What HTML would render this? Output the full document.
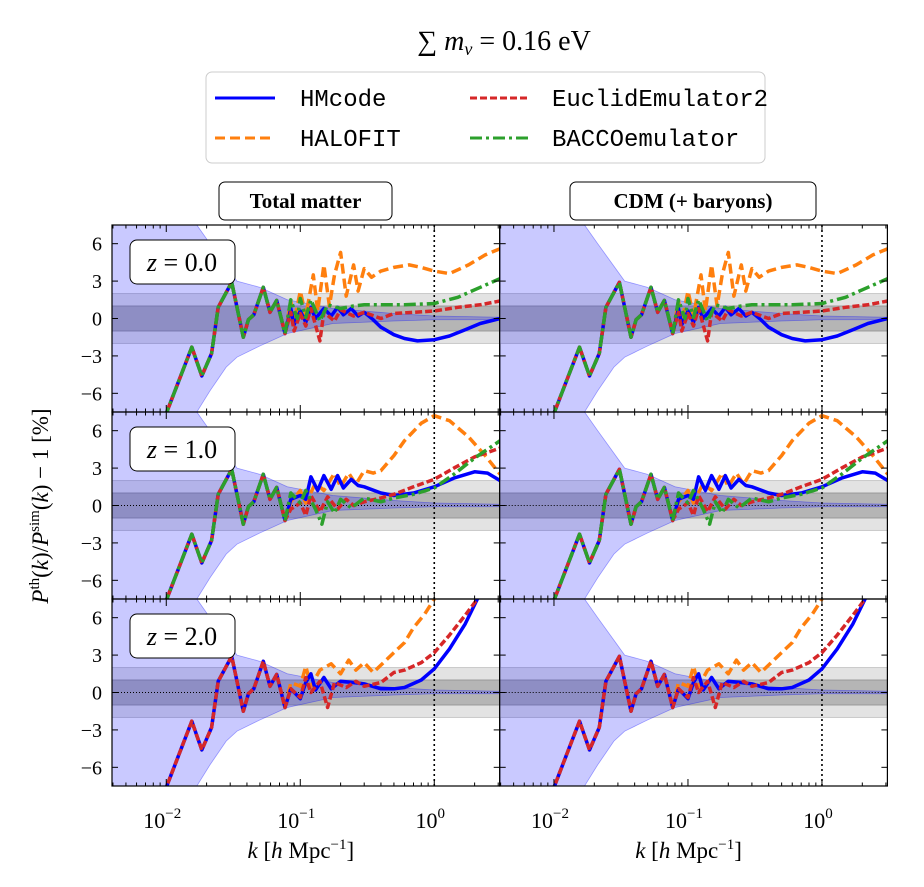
<!DOCTYPE html>
<html><head><meta charset="utf-8">
<style>
html,body{margin:0;padding:0;background:#fff;overflow:hidden;width:924px;height:887px;}
svg{display:block;position:absolute;left:0;top:0;}
svg text{font-family:"Liberation Serif","DejaVu Serif",serif;}
.mono{font-family:"Liberation Mono","DejaVu Sans Mono",monospace;}
</style></head>
<body>
<svg id="chart" width="924" height="887" viewBox="0 0 924 887" xmlns="http://www.w3.org/2000/svg" overflow="hidden">
<text x="504" y="50" font-size="28" text-anchor="middle">∑ <tspan font-style="italic">m</tspan><tspan font-style="italic" font-size="18" dy="5">ν</tspan><tspan dy="-5"> = 0.16 eV</tspan></text>
<g>
<rect x="206" y="72" width="559" height="91" rx="6" fill="#fff" stroke="#ccc" stroke-width="1"/>
<g><line x1="215" y1="98" x2="275" y2="98" stroke="#0000ff" stroke-width="3"/><text class="mono" x="300" y="106" font-size="24">HMcode</text></g>
<g><line x1="470" y1="98" x2="530" y2="98" stroke="#d62728" stroke-width="3" stroke-dasharray="7,3"/><text class="mono" x="552" y="106" font-size="24">EuclidEmulator2</text></g>
<g><line x1="215" y1="138" x2="275" y2="138" stroke="#ff7f0e" stroke-width="3" stroke-dasharray="10,5"/><text class="mono" x="300" y="146" font-size="24">HALOFIT</text></g>
<g><line x1="470" y1="138" x2="530" y2="138" stroke="#2ca02c" stroke-width="3" stroke-dasharray="12,4,3,4"/><text class="mono" x="552" y="146" font-size="24">BACCOemulator</text></g>
</g>
<g><rect x="219" y="182" width="173" height="38" rx="6" fill="#fff" stroke="#000"/><text x="305.5" y="208" font-size="21" font-weight="bold" text-anchor="middle">Total matter</text></g>
<g><rect x="570" y="182" width="246" height="38" rx="6" fill="#fff" stroke="#000"/><text x="693" y="208" font-size="21" font-weight="bold" text-anchor="middle">CDM (+ baryons)</text></g>
<text transform="translate(48,506) rotate(-90)" font-size="23" text-anchor="middle"><tspan font-style="italic">P</tspan><tspan font-size="15" dy="-9">th</tspan><tspan dy="9">(</tspan><tspan font-style="italic">k</tspan><tspan>)/</tspan><tspan font-style="italic">P</tspan><tspan font-size="15" dy="-9">sim</tspan><tspan dy="9">(</tspan><tspan font-style="italic">k</tspan><tspan>) − 1 [%]</tspan></text>
<g id="panels"></g>
</svg>
<script>
const NS="http://www.w3.org/2000/svg";
// ---- data ----
const redshifts=["0.0","1.0","2.0"];
const yTicks=[-6,-3,0,3,6];
const xTickExps=[-2,-1,0];
const envK=[0.003,0.0169,0.0212,0.028,0.0337,0.05,0.08,0.175,0.5,1,3.2];
const envUp=[40,7.5,6,4.2,3,2.5,1.5,0.8,0.4,0.2,0.1];
const envLo=[-40,-7.5,-5.8,-3.9,-3.1,-2.2,-1.2,-0.4,-0.2,-0.1,-0.1];
const lowK=[0.0095,0.0101,0.0155,0.0184,0.0218,0.0244,0.0308,0.0376,0.041,0.045,0.053,0.0594,0.0667,0.0769];
const lowV=[-8,-7.5,-2.3,-4.6,-2.8,0.9,2.9,-1.5,-0.1,0.3,2.5,0.5,1.45,-1.2];
// z=0
const z0Blue=[[0.085,0.8],[0.09,-0.5],[0.1,0.6],[0.11,-0.3],[0.12,0.9],[0.13,0],[0.15,0.8],[0.17,0.2],[0.19,0.9],[0.21,0.3],[0.24,0.8],[0.27,0.2],[0.3,0.5],[0.35,-0.1],[0.4,-0.7],[0.5,-1.3],[0.6,-1.6],[0.75,-1.8],[1,-1.7],[1.3,-1.4],[1.7,-0.9],[2.2,-0.4],[3.1,0]];
const z0Orange=[[0.085,1.4],[0.09,-0.3],[0.1,2.2],[0.11,0.2],[0.125,3.5],[0.135,0.6],[0.15,4.3],[0.165,1.0],[0.18,3.5],[0.2,5.3],[0.22,1.8],[0.25,4.3],[0.27,2.2],[0.3,4.0],[0.34,3.3],[0.4,3.8],[0.5,4.1],[0.65,4.3],[0.8,4.1],[1,3.8],[1.3,3.6],[1.8,4.3],[2.4,5.1],[3.1,5.6]];
const z0Red=[[0.085,0.5],[0.09,-1],[0.1,0.4],[0.11,-0.6],[0.12,0.8],[0.14,-1.8],[0.15,0.5],[0.18,-0.2],[0.2,0.7],[0.25,0.2],[0.3,0.5],[0.4,0],[0.5,0.4],[0.7,0.5],[1,0.6],[1.5,0.9],[2.2,1.1],[3.1,1.4]];
const z0Green=[[0.085,1.5],[0.095,0],[0.1,1.6],[0.11,0.1],[0.12,1.5],[0.14,-0.2],[0.16,1.1],[0.2,0.8],[0.25,1.0],[0.3,1.1],[0.4,1.1],[0.6,1.1],[1,1.2],[1.5,1.7],[2,2.3],[3.1,3.2]];
// z=1
const z1Blue=[[0.085,0.5],[0.1,0.8],[0.11,0.5],[0.12,2.3],[0.135,1.2],[0.15,2.4],[0.17,1.3],[0.19,2.4],[0.21,1.4],[0.24,2.1],[0.27,1.6],[0.3,1.5],[0.4,1.0],[0.5,0.8],[0.7,1.0],[1,1.5],[1.4,2.2],[2,2.7],[2.5,2.6],[3.1,2.0]];
const z1Orange=[[0.085,0.3],[0.1,1.2],[0.11,0.2],[0.13,1.8],[0.15,1.2],[0.18,2.6],[0.2,1.5],[0.23,2.6],[0.26,1.7],[0.3,2.8],[0.35,2.6],[0.4,2.8],[0.5,4],[0.6,5.2],[0.8,6.6],[1,7.2],[1.3,6.8],[1.8,5.5],[2.4,4],[3.1,2.5]];
const z1Red=[[0.085,-0.3],[0.1,0.2],[0.11,-0.8],[0.12,0.8],[0.14,-0.5],[0.16,0.7],[0.19,-0.3],[0.22,0.5],[0.25,0],[0.3,0.3],[0.4,0.6],[0.5,0.9],[0.7,1.5],[1,2.1],[1.4,3],[2,3.9],[3.1,4.6]];
const z1Green=[[0.085,1],[0.1,0.2],[0.11,1.2],[0.13,-0.3],[0.145,-1.5],[0.16,0.3],[0.18,-0.6],[0.2,0.5],[0.24,-0.2],[0.3,0.6],[0.4,0.3],[0.5,0.6],[0.7,0.9],[1,1.4],[1.4,2.5],[2,3.8],[3.1,5.2]];
// z=2
const z2Blue=[[0.085,0.3],[0.1,-0.5],[0.11,0.8],[0.12,1.5],[0.13,0.2],[0.15,1.2],[0.17,0.3],[0.2,0.9],[0.25,0.8],[0.3,0.7],[0.4,0.3],[0.5,0.3],[0.6,0.4],[0.8,1.0],[1,1.9],[1.3,3.5],[1.7,5.5],[2.1,7.5],[2.2,8]];
const z2Orange=[[0.085,0.8],[0.1,0.5],[0.11,2.1],[0.12,0.5],[0.14,1.8],[0.17,2.3],[0.2,1.5],[0.23,2.6],[0.26,1.8],[0.3,2.4],[0.35,1.6],[0.4,2.2],[0.5,3.2],[0.6,4.0],[0.7,5.2],[0.85,6.3],[1,7.5],[1.05,8]];
const z2Red=[[0.085,0.3],[0.1,-0.4],[0.11,1.2],[0.12,0],[0.14,0.9],[0.16,-1.2],[0.18,0.8],[0.22,0.4],[0.26,0.9],[0.3,0.5],[0.4,0.8],[0.5,1.6],[0.6,1.8],[0.8,2.4],[1,3.2],[1.3,4.6],[1.7,6.2],[2.1,7.5],[2.2,8]];

const rowsData=[
 {blue:z0Blue,orange:z0Orange,red:z0Red,green:z0Green},
 {blue:z1Blue,orange:z1Orange,red:z1Red,green:z1Green},
 {blue:z2Blue,orange:z2Orange,red:z2Red,green:null}
];
const styles={
 orange:{c:"#ff7f0e",d:"10,5",n:"halofit"},
 blue:{c:"#0000ff",d:"",n:"hmcode"},
 red:{c:"#d62728",d:"7,3",n:"euclidemulator2"},
 green:{c:"#2ca02c",d:"12,4,3,4",n:"baccoemulator"}
};
const colX=[112,499.7], PW=387.7, rowY=[225,412,599], PH=187;
const LOGMIN=-2.405, PXDEC=134, PXU=12.47;
const root=document.getElementById('panels');
function mk(tag,attrs,parent){const e=document.createElementNS(NS,tag);for(const k in attrs)e.setAttribute(k,attrs[k]);(parent||root).appendChild(e);return e;}

for(let c=0;c<2;c++){
 for(let r=0;r<3;r++){
  const x0=colX[c],y0=rowY[r],yc=y0+PH/2;
  const X=k=>x0+(Math.log10(k)-LOGMIN)*PXDEC;
  const Y=v=>yc-v*PXU;
  const g=mk('g',{});
  
  
  const cid='clip'+c+r;
  const cp=mk('clipPath',{id:cid},g);mk('rect',{x:x0,y:y0,width:PW,height:PH},cp);
  const inner=mk('g',{'clip-path':'url(#'+cid+')'},g);
  const b2=mk('rect',{x:x0,y:Y(2),width:PW,height:4*PXU,fill:'#e3e3e3',stroke:'#c8c8c8','stroke-width':1},inner);
  
  const b1=mk('rect',{x:x0,y:Y(1),width:PW,height:2*PXU,fill:'#b5b5b5',stroke:'#999','stroke-width':1},inner);
  
  let pts=envK.map((k,i)=>X(k)+','+Math.max(y0-5,Y(envUp[i])));
  for(let i=envK.length-1;i>=0;i--)pts.push(X(envK[i])+','+Math.min(y0+PH+5,Y(envLo[i])));
  const env=mk('polygon',{points:pts.join(' '),fill:'rgba(0,0,255,0.21)',stroke:'rgba(0,0,255,0.35)','stroke-width':0.8},inner);
  
  if(r>0){const zl=mk('line',{x1:x0,x2:x0+PW,y1:yc,y2:yc,stroke:'#000','stroke-width':1,'stroke-dasharray':'1,2'},inner);
   }
  const vl=mk('line',{x1:X(1),x2:X(1),y1:y0,y2:y0+PH,stroke:'#000','stroke-width':1.6,'stroke-dasharray':'2,3'},inner);
  
  const rd=rowsData[r];
  ['orange','blue','red','green'].forEach(s=>{
   const arr=rd[s]; if(!arr) return;
   const all=lowK.map((k,i)=>[k,lowV[i]]).concat(arr);
   const d=all.map((p,i)=>(i?'L':'M')+X(p[0]).toFixed(1)+','+Y(p[1]).toFixed(1)).join('');
   const st=styles[s];
   const p=mk('path',{d:d,fill:'none',stroke:st.c,'stroke-width':3.5,'stroke-dasharray':st.d,'stroke-linejoin':'round'},inner);
   
   
  });
  const fr=mk('rect',{x:x0,y:y0,width:PW,height:PH,fill:'none',stroke:'#000','stroke-width':1.2},g);
  
  yTicks.forEach(v=>{
   mk('line',{x1:x0,x2:x0+6,y1:Y(v),y2:Y(v),stroke:'#000'},g);
   mk('line',{x1:x0+PW-6,x2:x0+PW,y1:Y(v),y2:Y(v),stroke:'#000'},g);
   if(c===0){const t=mk('text',{x:x0-10,y:Y(v)+7,'font-size':20,'text-anchor':'end'},g);t.textContent=(v<0?'−':'')+Math.abs(v);
    }
  });
  for(let e=-3;e<=0;e++){for(let m=1;m<=9;m++){const k=m*Math.pow(10,e);const x=X(k);if(x<x0||x>x0+PW)continue;
   const L=m===1?7:3.5;
   mk('line',{x1:x,x2:x,y1:y0+PH,y2:y0+PH-L,stroke:'#000'},g);
   mk('line',{x1:x,x2:x,y1:y0,y2:y0+L,stroke:'#000'},g);}}
  if(r===2){xTickExps.forEach(e=>{const t=mk('text',{x:X(Math.pow(10,e))-4,y:828,'font-size':22,'text-anchor':'middle'},g);
    
    t.innerHTML='10<tspan font-size="15" dy="-10">'+(e<0?'−':'')+Math.abs(e)+'</tspan>';});
   const xt=mk('text',{x:x0+PW/2-5,y:858,'font-size':23,'text-anchor':'middle'},g);
   
   xt.innerHTML='<tspan font-style="italic">k</tspan> [<tspan font-style="italic">h</tspan> Mpc<tspan font-size="15" dy="-9">−1</tspan><tspan dy="9">]</tspan>';}
  if(c===0){const zb=mk('g',{},g);
   mk('rect',{x:130,y:y0+15,width:105,height:44,rx:7,fill:'#fff',stroke:'#000'},zb);
   const t=mk('text',{x:182,y:y0+46,'font-size':26,'text-anchor':'middle'},zb);
   t.innerHTML='<tspan font-style="italic">z</tspan> = '+redshifts[r];}
 }
}
</script>
</body></html>
